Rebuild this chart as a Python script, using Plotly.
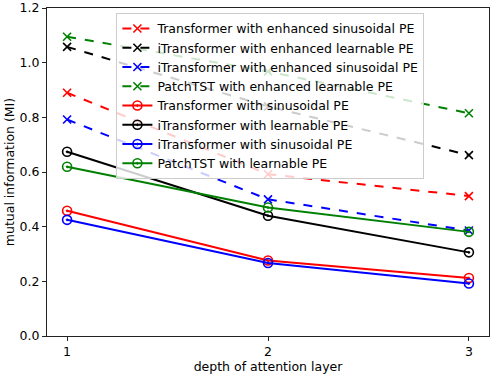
import plotly.graph_objects as go

depth = [1, 2, 3]
names = [
    "Transformer with enhanced sinusoidal PE",
    "iTransformer with enhanced learnable PE",
    "iTransformer with enhanced sinusoidal PE",
    "PatchTST with enhanced learnable PE",
    "Transformer with sinusoidal PE",
    "iTransformer with learnable PE",
    "iTransformer with sinusoidal PE",
    "PatchTST with learnable PE",
]
trans_enh_sin = [0.890, 0.592, 0.512]
itrans_enh_learn = [1.058, 0.840, 0.662]
itrans_enh_sin = [0.792, 0.500, 0.386]
patch_enh_learn = [1.095, 0.968, 0.815]
trans_sin = [0.458, 0.276, 0.212]
itrans_learn = [0.674, 0.440, 0.306]
itrans_sin = [0.425, 0.267, 0.192]
patch_learn = [0.619, 0.470, 0.381]

series = [trans_enh_sin, itrans_enh_learn, itrans_enh_sin, patch_enh_learn,
          trans_sin, itrans_learn, itrans_sin, patch_learn]
colors = ["red", "black", "blue", "green", "red", "black", "blue", "green"]

fig = go.Figure()
for i, (nm, ys, c) in enumerate(zip(names, series, colors)):
    enhanced = i < 4
    fig.add_trace(go.Scatter(
        x=depth, y=ys, name=nm, mode="lines+markers",
        line=dict(color=c, width=2, dash="dash" if enhanced else "solid"),
        marker=dict(symbol="x-thin" if enhanced else "circle-open-dot",
                    size=8 if enhanced else 9, color=c,
                    line=dict(color=c, width=1.6)),
    ))

FS = 12.5
axis_common = dict(
    showline=True, linecolor="#222", linewidth=1, mirror=True,
    ticks="outside", ticklen=4, tickcolor="#222", showgrid=False, zeroline=False,
    tickfont=dict(family="DejaVu Sans", size=FS, color="black"),
    ticklabeloverflow="allow", automargin=False,
)
fig.update_layout(
    width=492, height=376,
    margin=dict(l=47, r=3, t=8, b=40),
    plot_bgcolor="white", paper_bgcolor="white",
    font=dict(family="DejaVu Sans", size=FS, color="black"),
    xaxis=dict(range=[0.9, 3.1], tickvals=depth, ticktext=["1", "2", "3"],
               title=dict(text="depth of attention layer", standoff=4,
                          font=dict(size=FS)), **axis_common),
    yaxis=dict(range=[0.0, 1.2001], tickvals=[0, 0.2, 0.4, 0.6, 0.8, 1.0, 1.2],
               ticktext=["0.0", "0.2", "0.4", "0.6", "0.8", "1.0", "1.2"],
               title=dict(text="mutual information (MI)", standoff=2,
                          font=dict(size=FS)), **axis_common),
    legend=dict(x=0.157, y=0.985, xanchor="left", yanchor="top",
                bgcolor="rgba(255,255,255,0.8)", bordercolor="#cccccc", borderwidth=1,
                font=dict(size=FS, family="DejaVu Sans"), tracegroupgap=0,
                itemwidth=30),
    showlegend=True,
)
fig.write_html("out.html", config={"displayModeBar": False},
               post_script="document.body.style.margin='0';")
